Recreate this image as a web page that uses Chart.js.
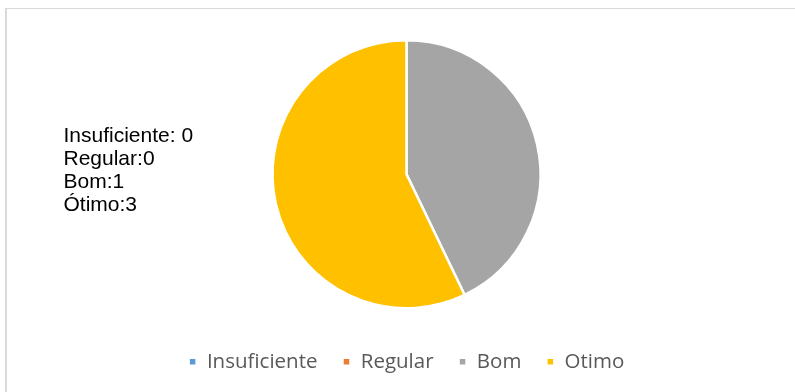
<!DOCTYPE html>
<html>
<head>
<meta charset="utf-8">
<script src="https://cdn.jsdelivr.net/npm/chart.js@4.4.0/dist/chart.umd.min.js"></script>
<style>
  html, body { margin: 0; padding: 0; width: 795px; height: 392px; overflow: hidden; background: #fff; }
  #frame { position: absolute; left: 5px; top: 8px; width: 900px; height: 500px; border-top: 1.5px solid #d9d9d9; border-left: 2px solid #d9d9d9; }
  #wrap { position: absolute; left: 0; top: 0; width: 795px; height: 382px; }
  #note { position: absolute; left: 63.5px; top: 123px; font-family: "Liberation Sans", Arial, sans-serif; font-size: 21px; line-height: 23px; color: #000; white-space: pre; }
</style>
</head>
<body>
<div id="frame"></div>
<div id="wrap"><canvas id="c" width="795" height="382"></canvas></div>
<div id="note"></div>
<script>
const categories = ["Insuficiente", "Regular", "Bom", "Otimo"];
const values = [0, 0, 3, 4];
const colors = ["#5B9BD5", "#ED7D31", "#A5A5A5", "#FFC000"];
const noteLines = ["Insuficiente: 0", "Regular:0", "Bom:1", "Ótimo:3"];

document.getElementById("note").textContent = noteLines.join("\n");

new Chart(document.getElementById("c"), {
  type: "pie",
  data: {
    labels: categories,
    datasets: [{
      data: values,
      backgroundColor: colors,
      borderColor: "#ffffff",
      borderWidth: 2.5,
      hoverOffset: 0,
      radius: 134
    }]
  },
  options: {
    responsive: false,
    animation: false,
    events: [],
    layout: { padding: { top: 22, bottom: 0, left: 18, right: 0 } },
    plugins: {
      tooltip: { enabled: false },
      legend: {
        position: "bottom",
        labels: {
          boxWidth: 8,
          boxHeight: 8,
          padding: 25,
          color: "#595959",
          font: { family: "'Open Sans', sans-serif", size: 20.5 }
        }
      }
    }
  }
});
</script>
</body>
</html>
